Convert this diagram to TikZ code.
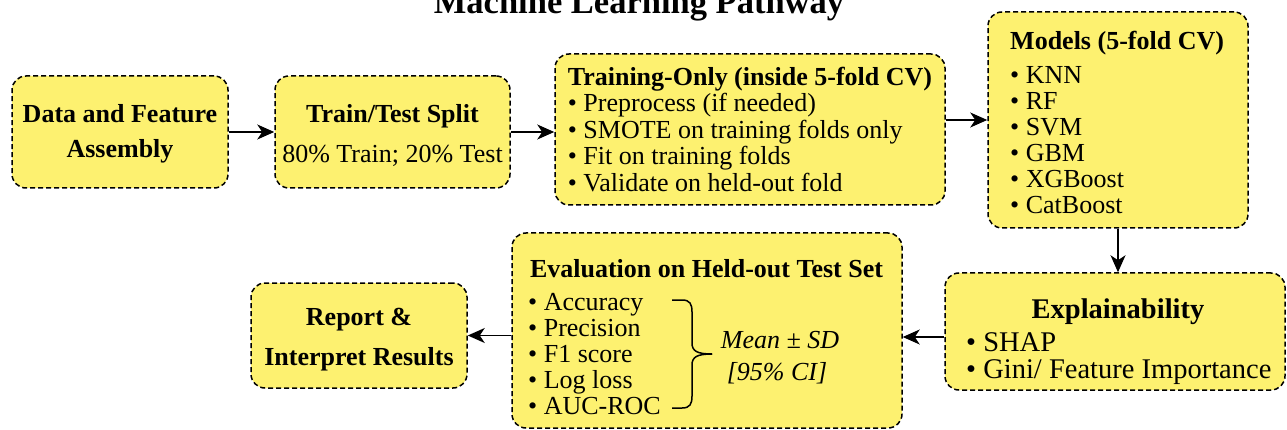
\documentclass[tikz,border=0pt]{standalone}
\usepackage{fontspec}
\setmainfont{Liberation Serif}
\usetikzlibrary{arrows.meta}
\definecolor{boxyellow}{RGB}{253,241,112}

\begin{document}
\begin{tikzpicture}[x=1pt,y=-1pt]
   \tikzset{box/.style 2 args={draw=black, fill=boxyellow, line width=1.5pt, dash pattern=on 5pt off 3pt, rounded corners=14pt, minimum width=#1, minimum height=#2, inner sep=0pt, align=center, font=\fontsize{26}{26.5}\selectfont}};
   \tikzset{txt/.style={inner sep=0pt, align=left, font=\fontsize{26}{26}\selectfont}};
   \tikzset{arr/.style={line width=1.6pt, -{Stealth[length=17pt,width=15pt,inset=5pt]}}};

\useasboundingbox (0,0) rectangle (1287,430);

\node[anchor=base, inner sep=0pt, font=\bfseries\fontsize{34.5}{40}\selectfont] (title) at (639,14) {Machine Learning Pathway};

% top row
\node[box={216pt}{112pt}] (data) at (120,132) {};
\node[txt, align=center, font=\bfseries\fontsize{26}{35}\selectfont] (dataText) at (120,134) {Data and Feature\\Assembly};
\node[box={235pt}{112pt}] (split) at (392.5,132) {};
\node[txt, align=center] (splitText) at (392.5,135.5) {\textbf{Train/Test Split}\\[14pt]80\% Train; 20\% Test};
\node[box={390pt}{151pt}, align=left] (train) at (750,129.5) {\textbf{Training-Only (inside 5-fold CV)}\\\textbullet\ Preprocess (if needed)\\\textbullet\ SMOTE on training folds only\\\textbullet\ Fit on training folds\\\textbullet\ Validate on held-out fold};
\node[box={260pt}{216pt}] (models) at (1118,120) {};
\node[txt, anchor=west] (modelsList) at (1010,122) {\textbf{Models (5-fold CV)}\\[8pt]\textbullet\ KNN\\\textbullet\ RF\\\textbullet\ SVM\\\textbullet\ GBM\\\textbullet\ XGBoost\\\textbullet\ CatBoost};

% bottom row
\node[box={340pt}{117pt}] (expl) at (1115,331.5) {};
\node[txt, anchor=base, font=\bfseries\fontsize{28.5}{26.5}\selectfont] (explHead) at (1118,318) {Explainability};
\node[txt, anchor=west, font=\fontsize{28.5}{26.5}\selectfont] (explList) at (966,358.5) {\textbullet\ SHAP\\\textbullet\ Gini/ Feature Importance};

\node[box={390pt}{195pt}] (eval) at (707,330.5) {};
\node[txt, anchor=base, font=\bfseries\fontsize{26}{26}\selectfont] (evalHead) at (706.5,277) {Evaluation on Held-out Test Set};
\node[txt, anchor=west] (evalList) at (528,354.5) {\textbullet\ Accuracy\\\textbullet\ Precision\\\textbullet\ F1 score\\\textbullet\ Log loss\\\textbullet\ AUC-ROC};
\draw[line width=1.5pt] (672,300) -- (682,300) .. controls (690,300) and (692,304) .. (692,312) -- (692,343) .. controls (692,351) and (697,354) .. (712,354);
\draw[line width=1.5pt] (672,408) -- (682,408) .. controls (690,408) and (692,404) .. (692,396) -- (692,365) .. controls (692,357) and (697,354) .. (712,354);
\node[txt, anchor=base, font=\itshape\fontsize{26}{26}\selectfont] (evalMean) at (780,348) {Mean ± SD};
\node[txt, anchor=base, font=\itshape\fontsize{26}{26}\selectfont] (evalCI) at (777,380) {[95\% CI]};

\node[box={216pt}{105pt}] (report) at (359,335.5) {};
\node[txt, align=center, font=\bfseries\fontsize{26}{40}\selectfont] (reportText) at (359,340) {Report \&\\Interpret Results};

% connectors
\draw[arr] (data.east) -- (split.west);
\draw[arr] (split.east) -- (split.east -| train.west);
\draw[arr] (train.east |- models.west) -- (models.west);
\draw[arr] (models.south) -- (models.south |- expl.north);
\draw[arr] ([yshift=-5.5pt]expl.west) -- ([yshift=-5.5pt]expl.west -| eval.east);
\draw[arr] (eval.west |- report.east) -- (report.east);

\end{tikzpicture}
\end{document}
